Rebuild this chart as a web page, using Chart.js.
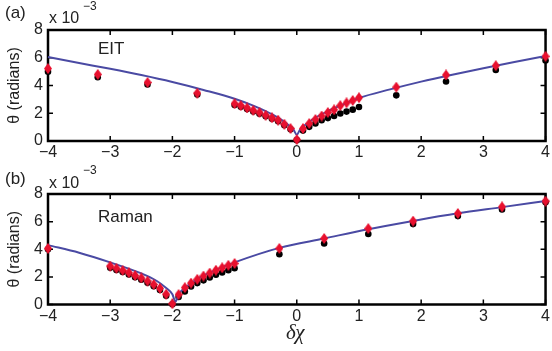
<!DOCTYPE html>
<html>
<head>
<meta charset="utf-8">
<script src="https://cdn.jsdelivr.net/npm/chart.js@4.4.1/dist/chart.umd.min.js"></script>
<style>
  html, body { margin: 0; padding: 0; background: #fff; }
  #wrap { position: relative; width: 552px; height: 351px; font-family: "Liberation Sans", Arial, sans-serif; color: #222; }
  canvas { position: absolute; left: 0; top: 0; }
  .lbl { position: absolute; white-space: nowrap; line-height: 1; }
  .xl { font-family: "Liberation Serif", serif; font-style: italic; font-size: 21px; }
</style>
</head>
<body>
<div id="wrap">
  <canvas id="chartA" width="552" height="351"></canvas>
  <canvas id="chartB" width="552" height="351"></canvas>
  <div class="lbl" style="left:5px;top:4px;font-size:17px;">(a)</div>
  <div class="lbl" style="left:49px;top:10px;font-size:16px;">x 10</div>
  <div class="lbl" style="left:83px;top:0px;font-size:12px;">−3</div>
  <div class="lbl" style="left:98px;top:40px;font-size:17px;">EIT</div>
  <div class="lbl" style="left:5px;top:170px;font-size:17px;">(b)</div>
  <div class="lbl" style="left:49px;top:175px;font-size:16px;">x 10</div>
  <div class="lbl" style="left:83px;top:164px;font-size:12px;">−3</div>
  <div class="lbl" style="left:98px;top:208px;font-size:17px;">Raman</div>
  <div class="lbl xl" style="left:286px;top:322px;">δχ</div>
</div>
<script>
// 数据 (a) EIT
const aPointX = [-4, -3.2, -2.4, -1.6, -1.0, -0.9, -0.8, -0.7, -0.6, -0.5, -0.4, -0.3, -0.2, -0.1, 0,
                 0.1, 0.2, 0.3, 0.4, 0.5, 0.6, 0.7, 0.8, 0.9, 1.0, 1.6, 2.4, 3.2, 4.0];
const aRed   = [5.22, 4.8, 4.22, 3.45, 2.69, 2.55, 2.38, 2.21, 2.05, 1.86, 1.67, 1.5, 1.21, 0.9, 0.1,
                0.9, 1.26, 1.55, 1.8, 2.05, 2.25, 2.55, 2.75, 2.92, 3.12, 3.88, 4.76, 5.43, 6.1];
const aBlack = [5.0, 4.6, 4.07, 3.35, 2.6, 2.46, 2.3, 2.13, 1.97, 1.78, 1.6, 1.42, 1.14, 0.84, 0.06,
                0.75, 1.02, 1.26, 1.5, 1.65, 1.8, 1.98, 2.12, 2.26, 2.45, 3.29, 4.29, 5.12, 5.8];
const aLineX = [-4, -3.5, -3, -2.5, -2, -1.5, -1, -0.7, -0.5, -0.3, -0.2, -0.1, -0.05, 0,
                0.05, 0.1, 0.2, 0.3, 0.5, 0.7, 1, 1.5, 2, 2.5, 3, 3.5, 4];
const aLineY = [6.05, 5.62, 5.2, 4.75, 4.25, 3.68, 3.05, 2.55, 2.15, 1.68, 1.38, 1.02, 0.8, 0.45,
                0.8, 1.02, 1.38, 1.68, 2.15, 2.55, 3.1, 3.72, 4.28, 4.78, 5.25, 5.7, 6.12];

// 数据 (b) Raman
const bPointX = [-4, -3.0, -2.9, -2.8, -2.7, -2.6, -2.5, -2.4, -2.3, -2.2, -2.1, -2.0,
                 -1.9, -1.8, -1.7, -1.6, -1.5, -1.4, -1.3, -1.2, -1.1, -1.0,
                 -0.28, 0.44, 1.15, 1.87, 2.59, 3.3, 4.0];
const bRed   = [4.06, 2.78, 2.62, 2.47, 2.3, 2.1, 1.92, 1.7, 1.45, 1.17, 0.75, 0.05,
                0.72, 1.22, 1.55, 1.82, 2.06, 2.28, 2.48, 2.66, 2.84, 2.97,
                4.06, 4.78, 5.5, 6.04, 6.59, 7.07, 7.48];
const bBlack = [4.0, 2.66, 2.5, 2.35, 2.18, 1.98, 1.8, 1.58, 1.33, 1.05, 0.63, 0.02,
                0.55, 0.95, 1.3, 1.55, 1.75, 1.95, 2.15, 2.32, 2.48, 2.62,
                3.64, 4.42, 5.1, 5.82, 6.4, 6.88, 7.4];
const bLineX = [-4, -3.5, -3, -2.5, -2.25, -2.1, -2.0, -1.95, -1.9, -1.8, -1.65, -1.5, -1.25, -1,
                -0.28, 0.44, 1.15, 1.87, 2.59, 3.3, 4];
const bLineY = [4.3, 3.75, 3.05, 2.25, 1.7, 1.2, 0.75, 0.2, 0.75, 1.2, 1.7, 2.1, 2.6, 3.05,
                4.1, 4.78, 5.45, 6.05, 6.6, 7.05, 7.5];

const xTicks = [-4, -3, -2, -1, 0, 1, 2, 3, 4];
const yTicks = [0, 2, 4, 6, 8];

const lineColor = '#4a4aa3';
const redColor = '#e8102e';

// 菱形点
function makeDiamond() {
    const c = document.createElement('canvas');
    c.width = 8; c.height = 11;
    const g = c.getContext('2d');
    g.fillStyle = redColor;
    g.beginPath();
    g.moveTo(4, 0); g.lineTo(8, 5.5); g.lineTo(4, 11); g.lineTo(0, 5.5);
    g.closePath();
    g.fill();
    return c;
}
const diamond = makeDiamond();

// 边框和向内刻度
const boxPlugin = {
    id: 'box',
    beforeDatasetsDraw(chart) {
        const { ctx, chartArea: a, scales: { x, y } } = chart;
        ctx.save();
        ctx.strokeStyle = '#000';
        ctx.lineWidth = 1.5;
        ctx.beginPath();
        xTicks.forEach(v => {
            const px = x.getPixelForValue(v);
            ctx.moveTo(px, a.bottom); ctx.lineTo(px, a.bottom - 5);
            ctx.moveTo(px, a.top); ctx.lineTo(px, a.top + 5);
        });
        yTicks.forEach(v => {
            const py = y.getPixelForValue(v);
            ctx.moveTo(a.left, py); ctx.lineTo(a.left + 5, py);
            ctx.moveTo(a.right, py); ctx.lineTo(a.right - 5, py);
        });
        ctx.stroke();
        ctx.lineWidth = 2.5;
        ctx.strokeRect(a.left, a.top, a.right - a.left, a.bottom - a.top);
        ctx.restore();
    }
};

function toXY(xs, ys) {
    return xs.map((v, i) => ({ x: v, y: ys[i] }));
}

function makeChart(id, px, red, black, lx, ly, top, bottom) {
    const font = { family: '"Liberation Sans", Arial, sans-serif', size: 16 };
    return new Chart(document.getElementById(id), {
        type: 'scatter',
        data: {
            datasets: [
                {
                    data: toXY(px, red), pointStyle: diamond, pointRadius: 5,
                    order: 0, clip: false
                },
                {
                    type: 'line', data: toXY(lx, ly), borderColor: lineColor, borderWidth: 2,
                    pointRadius: 0, tension: 0.35, cubicInterpolationMode: 'monotone',
                    order: 1, clip: false
                },
                {
                    data: toXY(px, black), pointStyle: 'circle', pointRadius: 3.3,
                    backgroundColor: '#000', borderColor: '#000', borderWidth: 0,
                    order: 2, clip: false
                }
            ]
        },
        options: {
            responsive: false,
            animation: false,
            devicePixelRatio: 1,
            layout: { padding: { top: top, right: 4, left: 0, bottom: 0 } },
            plugins: { legend: { display: false }, tooltip: { enabled: false } },
            scales: {
                x: {
                    type: 'linear', min: -4, max: 4,
                    grid: { display: false, drawTicks: false }, border: { display: false },
                    afterBuildTicks: s => { s.ticks = xTicks.map(v => ({ value: v })); },
                    ticks: {
                        color: '#222', font, padding: 2, maxRotation: 0,
                        callback: v => String(v).replace('-', '−')
                    },
                    afterFit: s => { s.height = 351 - bottom; }
                },
                y: {
                    min: 0, max: 8,
                    grid: { display: false, drawTicks: false }, border: { display: false },
                    afterBuildTicks: s => { s.ticks = yTicks.map(v => ({ value: v })); },
                    ticks: { color: '#222', font, padding: 5 },
                    title: { display: true, text: 'θ (radians)', color: '#222', font, padding: { top: 5, bottom: 0 } },
                    afterFit: s => { s.width = 48; }
                }
            }
        },
        plugins: [boxPlugin]
    });
}

makeChart('chartA', aPointX, aRed, aBlack, aLineX, aLineY, 30, 141);
makeChart('chartB', bPointX, bRed, bBlack, bLineX, bLineY, 194, 304.5);
</script>
</body>
</html>
